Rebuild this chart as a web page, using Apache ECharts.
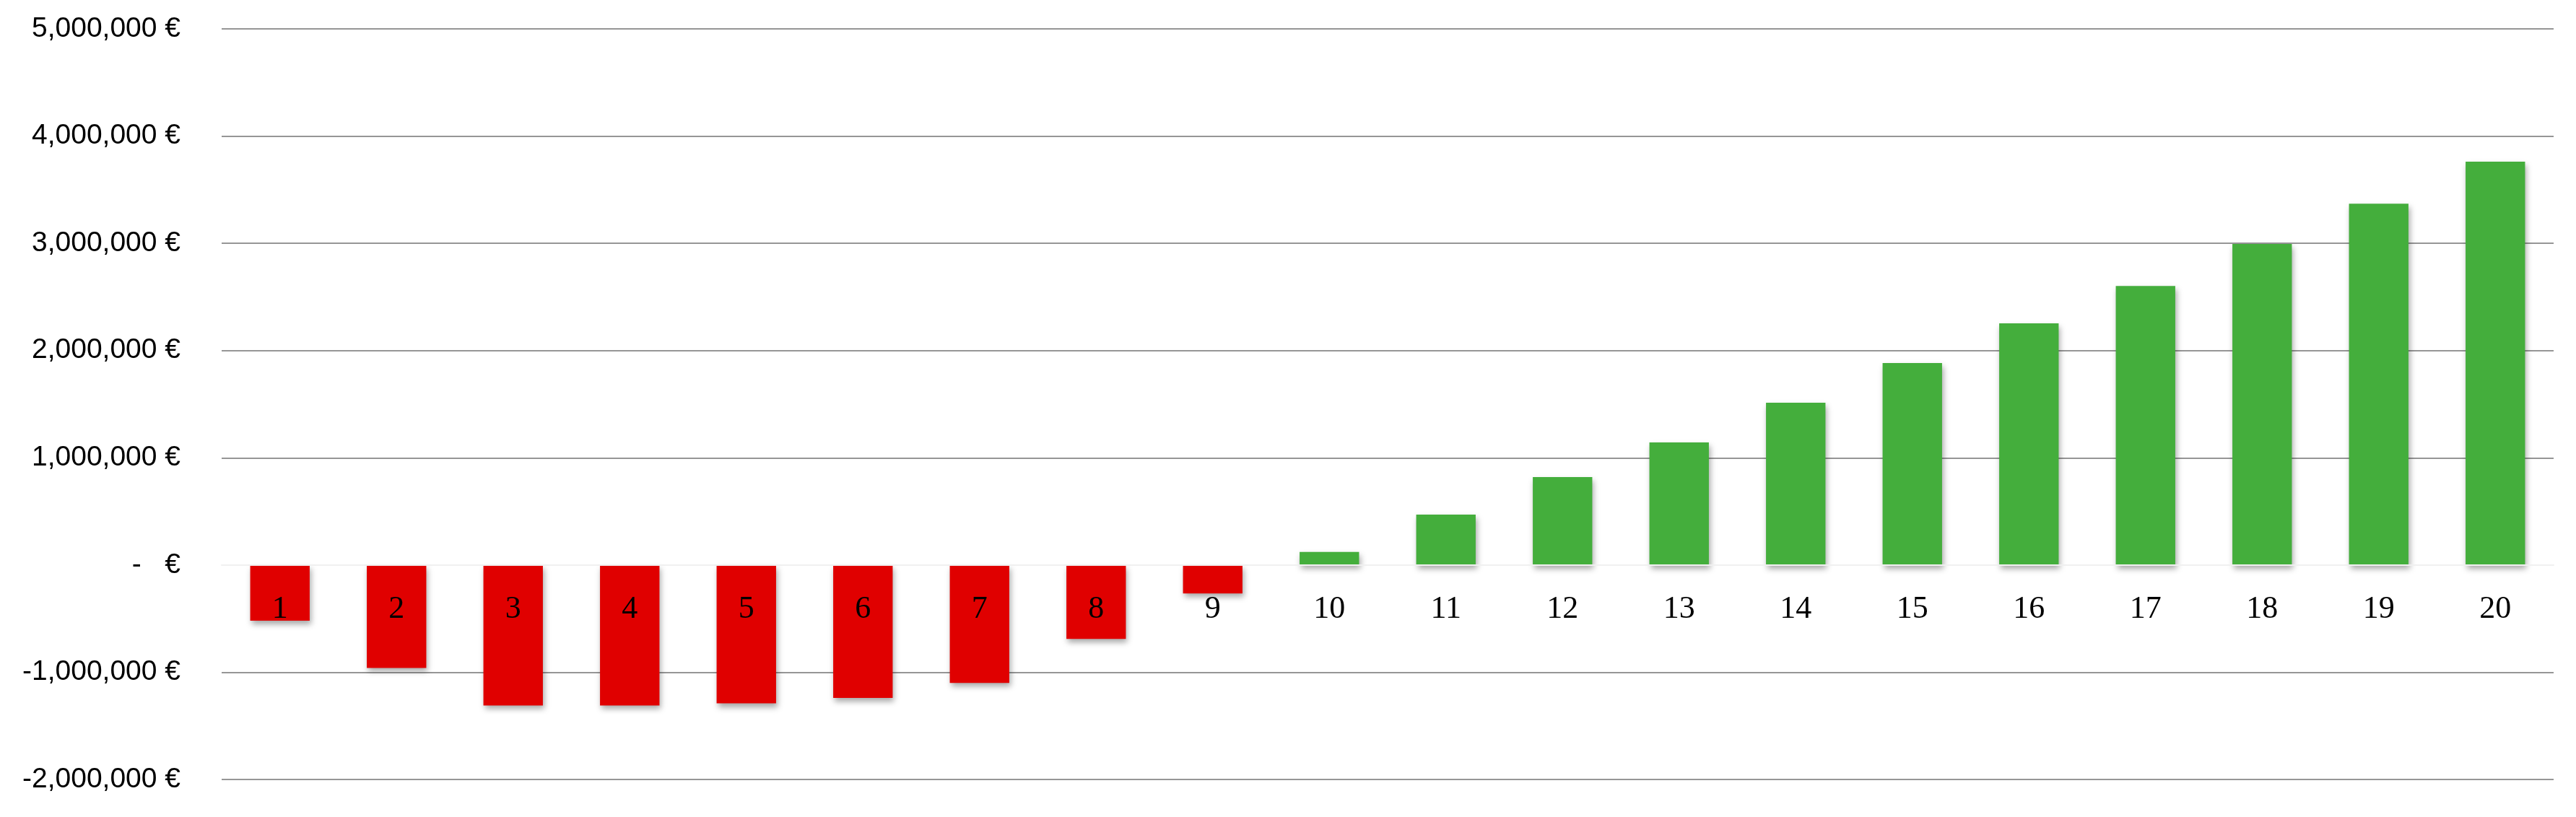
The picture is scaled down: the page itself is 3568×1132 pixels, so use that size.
<!DOCTYPE html>
<html>
<head>
<meta charset="utf-8">
<script src="https://cdn.jsdelivr.net/npm/echarts@6/dist/echarts.min.js"></script>
<style>
  html, body { margin: 0; padding: 0; background: #ffffff; }
  #chart { width: 3568px; height: 1132px; }
</style>
</head>
<body>
<div id="chart"></div>
<script>
const categories = ['1','2','3','4','5','6','7','8','9','10','11','12','13','14','15','16','17','18','19','20'];
const values = [-520000, -960000, -1310000, -1310000, -1290000, -1240000, -1100000, -690000, -265000,
                122000, 470000, 820000, 1143000, 1514000, 1884000, 2254000, 2602000, 2995000, 3369000, 3762000];
const yMin = -2000000;
const yMax = 5000000;
const yStep = 1000000;

const gridTop = 40, gridBottom = 52, H = 1132;
const plotH = H - gridTop - gridBottom;
const zeroFromBottom = plotH * (0 - yMin) / (yMax - yMin);

const chart = echarts.init(document.getElementById('chart'), null, { renderer: 'canvas' });

function fmt(v) {
  if (v === 0) return '-   €';
  return v.toLocaleString('en-US') + ' €';
}

chart.setOption({
  animation: false,
  backgroundColor: '#ffffff',
  grid: { left: 307, right: 31, top: gridTop, bottom: gridBottom, containLabel: false, outerBoundsMode: 'none' },
  xAxis: {
    type: 'category',
    data: categories,
    position: 'bottom',
    offset: -zeroFromBottom,
    z: 10,
    axisLine: { onZero: false, lineStyle: { color: '#f0f0f0', width: 2 } },
    axisTick: { show: false },
    axisLabel: {
      interval: 0,
      margin: 40,
      color: '#000000',
      fontFamily: '"Liberation Serif", "Times New Roman", serif',
      fontSize: 44
    },
    splitLine: { show: false }
  },
  yAxis: {
    type: 'value',
    min: yMin,
    max: yMax,
    interval: yStep,
    axisLine: { show: false },
    axisTick: { show: false },
    axisLabel: {
      margin: 57,
      color: '#000000',
      fontFamily: '"Liberation Sans", Arial, sans-serif',
      fontSize: 39,
      formatter: fmt
    },
    splitLine: {
      show: true,
      lineStyle: {
        color: ['#969696', '#969696', '#f0f0f0', '#969696', '#969696', '#969696', '#969696', '#969696'],
        width: 2
      }
    }
  },
  series: [{
    type: 'bar',
    data: values,
    barWidth: '51%',
    itemStyle: {
      color: function (p) { return p.value < 0 ? '#E00000' : '#44AE3C'; },
      shadowColor: 'rgba(0,0,0,0.35)',
      shadowBlur: 8,
      shadowOffsetX: 2,
      shadowOffsetY: 5
    }
  }]
});
</script>
</body>
</html>
